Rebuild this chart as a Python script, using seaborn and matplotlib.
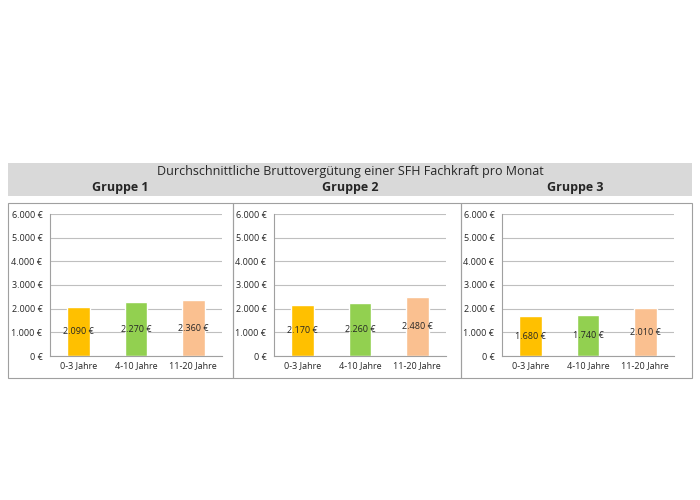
import matplotlib
matplotlib.use("Agg")
import matplotlib.pyplot as plt
import seaborn as sns
import pandas as pd
from matplotlib.patches import Rectangle

kategorien = ["0-3 Jahre", "4-10 Jahre", "11-20 Jahre"]
gruppe1 = [2090, 2270, 2360]
gruppe2 = [2170, 2260, 2480]
gruppe3 = [1680, 1740, 2010]
gruppen = ["Gruppe 1", "Gruppe 2", "Gruppe 3"]
farben = ["#FFC000", "#92D050", "#FAC090"]
titel = "Durchschnittliche Bruttovergütung einer SFH Fachkraft pro Monat"

sns.set_style("white")
plt.rcParams['font.family'] = ['Open Sans', 'DejaVu Sans']

fig = plt.figure(figsize=(7, 5), dpi=100)

# grey header
fig.patches.append(Rectangle((8/700, 304/500), 684/700, 33/500, transform=fig.transFigure,
                             facecolor="#D9D9D9", edgecolor="none"))
fig.text(0.5, 328/500, titel, ha="center", va="center", fontsize=9)
for x, g in zip([120, 350, 575], gruppen):
    fig.text(x/700, 313/500, g, ha="center", va="center", fontsize=9, fontweight="bold")

# panel frames
for x0, x1 in [(8, 233), (233, 461), (461, 692)]:
    fig.patches.append(Rectangle((x0/700, 122/500), (x1-x0)/700, 175/500, transform=fig.transFigure,
                                 facecolor="none", edgecolor="#A0A0A0", lw=0.8))

def euro(v):
    return f"{v:,.0f} €".replace(",", ".")

lefts = [50, 274, 502]
for left, werte in zip(lefts, [gruppe1, gruppe2, gruppe3]):
    ax = fig.add_axes([left/700, 144/500, 172/700, 142/500])
    df = pd.DataFrame({"kat": kategorien, "wert": werte})
    sns.barplot(data=df, x="kat", y="wert", hue="kat", palette=farben, legend=False,
                width=0.4, saturation=1, ax=ax)
    ax.set_ylim(0, 6000)
    ax.set_yticks(range(0, 6001, 1000))
    ax.set_yticklabels([euro(v) for v in range(0, 6001, 1000)], fontsize=6.5)
    ax.tick_params(axis="x", labelsize=6.5, length=0)
    ax.tick_params(axis="y", length=2)
    ax.set_xlabel("")
    ax.set_ylabel("")
    ax.yaxis.grid(True, color="#BFBFBF", lw=0.8)
    ax.set_axisbelow(True)
    for s in ["top", "right"]:
        ax.spines[s].set_visible(False)
    ax.spines["left"].set_color("#A0A0A0")
    ax.spines["bottom"].set_color("#A0A0A0")
    for i, v in enumerate(werte):
        ax.text(i, v/2, euro(v), ha="center", va="center", fontsize=6.5)

fig.savefig("out.png", dpi=100)
